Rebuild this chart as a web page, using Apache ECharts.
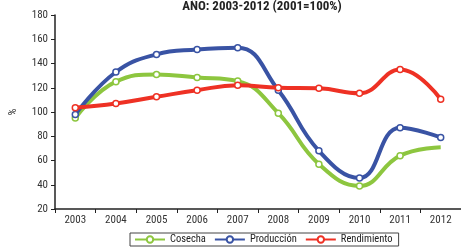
<!DOCTYPE html>
<html>
<head>
<meta charset="utf-8">
<script src="https://cdn.jsdelivr.net/npm/echarts@6/dist/echarts.min.js"></script>
<style>
  html, body { margin: 0; padding: 0; background: #fff; }
  #chart { width: 461px; height: 248px; }
</style>
</head>
<body>
<div id="chart"></div>
<script>
// datos
const years = ['2003', '2004', '2005', '2006', '2007', '2008', '2009', '2010', '2011', '2012'];
const cosecha = [95, 125, 131, 128.5, 125.5, 99, 57, 39, 64, 71];
const produccion = [98, 133, 147.5, 151.5, 153, 118, 68, 45.5, 87, 79];
const rendimiento = [103.5, 107, 112.5, 118, 122, 120, 119.5, 115.5, 135, 110.5];
const yTicks = { min: 20, max: 180, interval: 20 };

const font = '"Liberation Sans Narrow", "Roboto Condensed", "Liberation Sans", sans-serif';

function line(name, data, color, noLastMark) {
  return {
    name: name,
    type: 'line',
    data: data,
    smooth: 0.45,
    symbol: 'circle',
    symbolSize: (v, p) => (noLastMark && p.dataIndex === data.length - 1) ? 0 : 6,
    lineStyle: { color: color, width: 4 },
    itemStyle: { color: '#fff', borderColor: color, borderWidth: 1.5 },
    emphasis: { disabled: true }
  };
}

const chart = echarts.init(document.getElementById('chart'));
chart.setOption({
  animation: false,
  textStyle: { fontFamily: font },
  title: {
    text: 'AÑO: 2003-2012 (2001=100%)',
    left: 257, textAlign: 'center', top: -5,
    textStyle: { fontFamily: font, fontSize: 13, fontWeight: 'bold', color: '#222' }
  },
  grid: { left: 50, right: 0, top: 15, bottom: 39, containLabel: false },
  xAxis: {
    type: 'category',
    data: years,
    boundaryGap: true,
    axisLine: { lineStyle: { color: '#222', width: 1.5 } },
    axisTick: { show: true, length: 4, lineStyle: { color: '#222' } },
    axisLabel: { color: '#333', fontSize: 11, margin: 6, fontFamily: font }
  },
  yAxis: {
    type: 'value',
    min: yTicks.min, max: yTicks.max, interval: yTicks.interval,
    name: '%', nameLocation: 'middle', nameGap: 36, nameRotate: 90,
    nameTextStyle: { color: '#333', fontSize: 11, fontFamily: font },
    splitLine: { show: false },
    axisLine: { show: true, lineStyle: { color: '#222', width: 1.5 } },
    axisTick: { show: true, length: 4, lineStyle: { color: '#222' } },
    axisLabel: { color: '#333', fontSize: 11, margin: 7, fontFamily: font }
  },
  legend: {
    top: 233, left: 130,
    padding: [1, 6, 1, 4],
    itemGap: 8,
    itemWidth: 30, itemHeight: 8,
    borderColor: '#444', borderWidth: 1,
    textStyle: { color: '#222', fontSize: 10.5, fontFamily: font },
    data: ['Cosecha', 'Producción', 'Rendimiento']
  },
  series: [
    line('Cosecha', cosecha, '#8DC63F', true),
    line('Producción', produccion, '#3953A4'),
    line('Rendimiento', rendimiento, '#EE3124')
  ]
});
</script>
</body>
</html>
